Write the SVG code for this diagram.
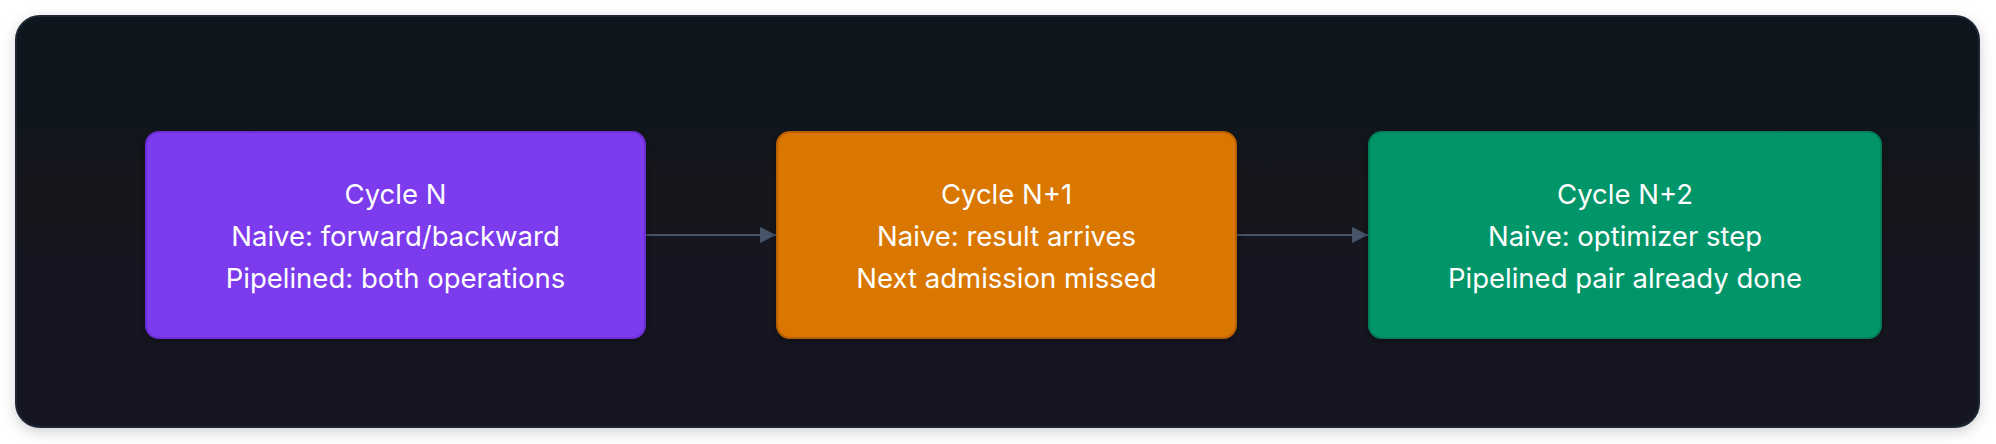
<svg xmlns="http://www.w3.org/2000/svg" width="1996" height="444" viewBox="0 0 1996 444">
  <defs>
    <linearGradient id="bg" x1="0" y1="0" x2="0" y2="1">
      <stop offset="0" stop-color="#10121a"/>
      <stop offset="1" stop-color="#151624"/>
    </linearGradient>
    <filter id="shadow" x="-5%" y="-20%" width="110%" height="140%">
      <feDropShadow dx="0" dy="4" stdDeviation="7" flood-color="#000000" flood-opacity="0.18"/>
    </filter>
    <filter id="nshadow" x="-10%" y="-20%" width="120%" height="140%">
      <feDropShadow dx="0" dy="3" stdDeviation="5" flood-color="#000000" flood-opacity="0.35"/>
    </filter>
    <marker id="arrow" viewBox="0 0 16 16" refX="16" refY="8" markerWidth="16" markerHeight="16" markerUnits="userSpaceOnUse" orient="auto">
      <path d="M0,0 L16,8 L0,16 Z" fill="#475569"/>
    </marker>
    <style>
      .node rect { stroke-width: 2; filter: url(#nshadow); }
      .node text { font-family: Inter, "Noto Sans", "Liberation Sans", sans-serif; font-size: 27.5px; fill: #ffffff; text-anchor: middle; }
      .edge { stroke: #475569; stroke-width: 2; fill: none; marker-end: url(#arrow); }
    </style>
  </defs>
  <rect x="0" y="0" width="1996" height="444" fill="#ffffff"/>
  <rect x="16" y="16" width="1963" height="411" rx="24" ry="24" fill="url(#bg)" stroke="#1e2736" stroke-width="2" filter="url(#shadow)"/>

  <g id="connectors">
    <line class="edge" x1="645" y1="235" x2="776" y2="235"/>
    <line class="edge" x1="1236" y1="235" x2="1368" y2="235"/>
  </g>

  <g id="node-cycle-n" class="node">
    <rect x="146" y="132" width="499" height="206" rx="13" ry="13" fill="#7c3aed" stroke="#6d2fd6"/>
    <text x="395.5" y="204">Cycle N</text>
    <text x="395.5" y="246">Naive: forward/backward</text>
    <text x="395.5" y="288">Pipelined: both operations</text>
  </g>

  <g id="node-cycle-n1" class="node">
    <rect x="777" y="132" width="459" height="206" rx="13" ry="13" fill="#d97706" stroke="#b85f06"/>
    <text x="1006.5" y="204">Cycle N+1</text>
    <text x="1006.5" y="246">Naive: result arrives</text>
    <text x="1006.5" y="288">Next admission missed</text>
  </g>

  <g id="node-cycle-n2" class="node">
    <rect x="1369" y="132" width="512" height="206" rx="13" ry="13" fill="#059669" stroke="#04805a"/>
    <text x="1625" y="204">Cycle N+2</text>
    <text x="1625" y="246">Naive: optimizer step</text>
    <text x="1625" y="288">Pipelined pair already done</text>
  </g>
</svg>
